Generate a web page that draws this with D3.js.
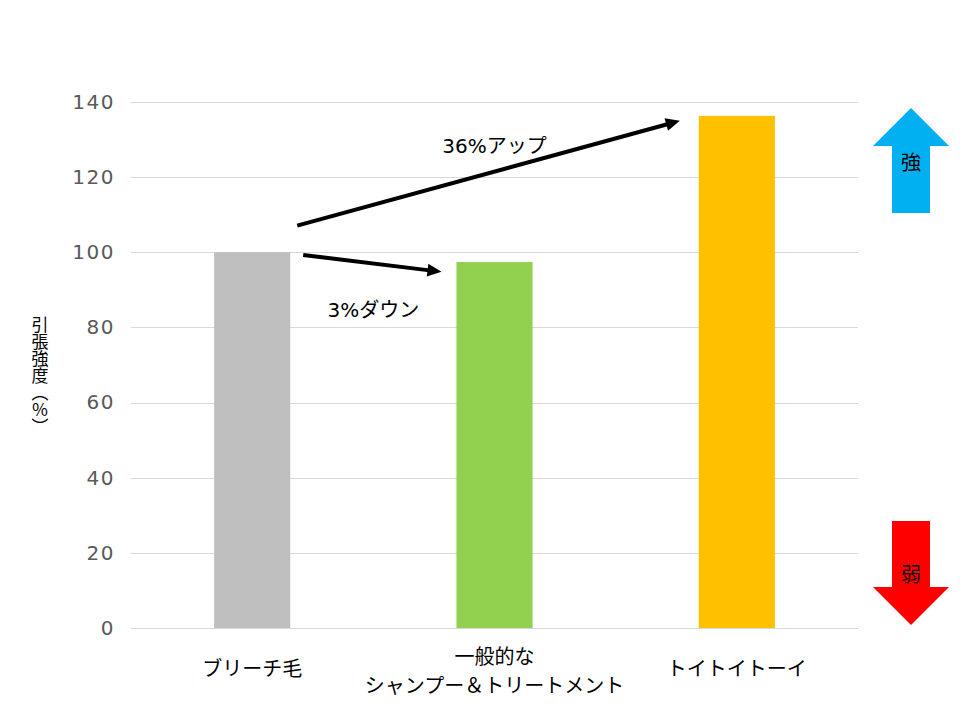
<!DOCTYPE html>
<html>
<head>
<meta charset="utf-8">
<script src="https://cdn.jsdelivr.net/npm/d3@7"></script>
<style>
  html, body { margin: 0; padding: 0; background: #ffffff; }
  svg { display: block; }
</style>
</head>
<body>
<svg id="chart" width="960" height="720"></svg>
<script>
// ---- data ----
const categories = ["ブリーチ毛", "一般的な\nシャンプー＆トリートメント", "トイトイトーイ"];
const values = [100, 97.4, 136.3];
const barColors = ["#BFBFBF", "#92D050", "#FFC000"];
const yTicks = [0, 20, 40, 60, 80, 100, 120, 140];
const yTitle = "引張強度（％）";
// annotation arrows: from category index / value to category index / value
const arrowFrom = [{cat: 0, v: 107.1, side: "right", off: 7}, {cat: 0, v: 99.3, side: "right", off: 13}];
const arrowTo   = [{cat: 2, v: 135.0, side: "left", off: -19}, {cat: 1, v: 94.8, side: "left", off: -15}];
const arrowLabels = ["36%アップ", "3%ダウン"];
const arrowLabelPos = [{a: 0, b: 2, v: 126.3}, {a: 0, b: 1, v: 82.8}];
const sideLabels = ["強", "弱"];

// ---- layout ----
const svg = d3.select("#chart");
const x = d3.scaleBand().domain(d3.range(categories.length)).range([131, 858])
  .paddingInner(0.686).paddingOuter(0.343);
const y = d3.scaleLinear().domain([0, 140]).range([628, 102]);

// gridlines
svg.append("g").selectAll("line").data(yTicks).join("line")
  .attr("x1", 131).attr("x2", 858)
  .attr("y1", d => Math.round(y(d)) + 0.5).attr("y2", d => Math.round(y(d)) + 0.5)
  .attr("stroke", "#D9D9D9").attr("stroke-width", 1);

// y axis labels
const yAxis = d3.axisLeft(y).tickValues(yTicks).tickSize(0).tickPadding(16);
const gy = svg.append("g").attr("transform", "translate(131,0)").call(yAxis);
gy.select(".domain").remove();
gy.selectAll("text")
  .attr("fill", "#595959")
  .style("font-family", "'DejaVu Sans', sans-serif")
  .style("font-size", "20px")
  .style("letter-spacing", "1.5px");

// bars
svg.append("g").selectAll("rect").data(values).join("rect")
  .attr("x", (d, i) => x(i))
  .attr("width", x.bandwidth())
  .attr("y", d => y(d))
  .attr("height", d => y(0) - y(d))
  .attr("fill", (d, i) => barColors[i]);

// category labels
const catG = svg.append("g")
  .style("font-family", "'Noto Sans CJK JP', sans-serif")
  .style("font-size", "20px")
  .attr("fill", "#000");
categories.forEach((c, i) => {
  const lines = c.split("\n");
  const cx = x(i) + x.bandwidth() / 2;
  const t = catG.append("text").attr("text-anchor", "middle");
  const base = lines.length === 1 ? 676 : 664;
  lines.forEach((ln, j) => {
    t.append("tspan").attr("x", cx).attr("y", base + j * 29).text(ln);
  });
});

// y title (vertical)
svg.append("text")
  .attr("x", 40).attr("y", 316)
  .style("writing-mode", "vertical-rl")
  .style("font-family", "'Noto Sans CJK JP', sans-serif")
  .style("font-size", "17px")
  .attr("fill", "#000")
  .text(yTitle);

// annotation arrows
function px(p) {
  return p.side === "right" ? x(p.cat) + x.bandwidth() + p.off : x(p.cat) + p.off;
}
const annG = svg.append("g");
arrowFrom.forEach((f, i) => {
  const t = arrowTo[i];
  const x1 = px(f), y1 = y(f.v), x2 = px(t), y2 = y(t.v);
  const ang = Math.atan2(y2 - y1, x2 - x1);
  const hl = 14, hw = 6.5;
  const bx = x2 - hl * Math.cos(ang), by = y2 - hl * Math.sin(ang);
  annG.append("line")
    .attr("x1", x1).attr("y1", y1).attr("x2", bx + 2 * Math.cos(ang)).attr("y2", by + 2 * Math.sin(ang))
    .attr("stroke", "#000").attr("stroke-width", 4);
  const pts = [
    [x2, y2],
    [bx - hw * Math.sin(ang), by + hw * Math.cos(ang)],
    [bx + hw * Math.sin(ang), by - hw * Math.cos(ang)]
  ];
  annG.append("polygon").attr("points", pts.map(p => p.join(",")).join(" ")).attr("fill", "#000");
});
arrowLabels.forEach((l, i) => {
  const p = arrowLabelPos[i];
  const cx = (x(p.a) + x(p.b) + x.bandwidth()) / 2;
  svg.append("text")
    .attr("x", cx).attr("y", y(p.v))
    .attr("text-anchor", "middle")
    .style("font-family", "'DejaVu Sans', 'Noto Sans CJK JP', sans-serif")
    .style("font-size", "20px")
    .attr("fill", "#000")
    .text(l);
});

// side strength arrows
const sideG = svg.append("g");
// up (blue)
sideG.append("path")
  .attr("d", "M911,108 L949,146 L930,146 L930,213 L892,213 L892,146 L873,146 Z")
  .attr("fill", "#00B0F0");
// down (red)
sideG.append("path")
  .attr("d", "M892,521 L930,521 L930,587 L949,587 L911,625 L873,587 L892,587 Z")
  .attr("fill", "#FF0000");
sideG.selectAll("text").data(sideLabels).join("text")
  .attr("x", 911)
  .attr("y", (d, i) => i === 0 ? 170 : 582)
  .attr("text-anchor", "middle")
  .style("font-family", "'Noto Sans CJK JP', sans-serif")
  .style("font-size", "20px")
  .attr("fill", "#000")
  .text(d => d);
</script>
</body>
</html>
